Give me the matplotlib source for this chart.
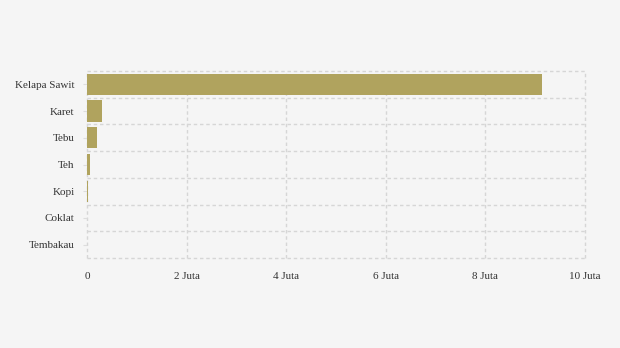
import matplotlib
matplotlib.use("Agg")
import matplotlib.pyplot as plt
import numpy as np

categories = ["Kelapa Sawit", "Karet", "Tebu", "Teh", "Kopi", "Coklat", "Tembakau"]
values = [9130000, 300000, 200000, 60000, 22000, 8000, 5000]
xticks = [0, 2e6, 4e6, 6e6, 8e6, 10e6]
xtick_labels = ["0", "2 Juta", "4 Juta", "6 Juta", "8 Juta", "10 Juta"]

plt.rcParams['font.family'] = ['Liberation Serif', 'DejaVu Serif']

bg = "#f5f5f5"
grid_color = "#d6d6d6"
grid_ls = (0, (2.5, 2))
fig = plt.figure(figsize=(6.2, 3.48), dpi=100, facecolor=bg)
ax = fig.add_axes([87/620, 1 - 258/348, (585-87)/620, (258-71)/348])
ax.set_facecolor(bg)

n = len(categories)
y = np.arange(n)
ax.barh(y, values, height=0.8, color="#b0a35e", zorder=3)
ax.set_ylim(n - 0.5, -0.5)
ax.set_xlim(0, 10e6)

ax.set_yticks(y)
ax.set_yticklabels(categories, fontsize=8, color="#333333", va="center_baseline")
ax.set_xticks(xticks)
ax.set_xticklabels(xtick_labels, fontsize=8, color="#333333")

ax.tick_params(axis='y', which='major', length=3, color="#dddddd", pad=6)
ax.tick_params(axis='x', length=0, pad=10)

for b in np.arange(n + 1) - 0.5:
    ax.axhline(b, color=grid_color, linestyle=grid_ls, linewidth=1, zorder=0, clip_on=False)
for xv in xticks:
    ax.axvline(xv, color=grid_color, linestyle=grid_ls, linewidth=1, zorder=0, clip_on=False)
for s in ax.spines.values():
    s.set_visible(False)

fig.savefig("out.png", dpi=100, facecolor=bg)
